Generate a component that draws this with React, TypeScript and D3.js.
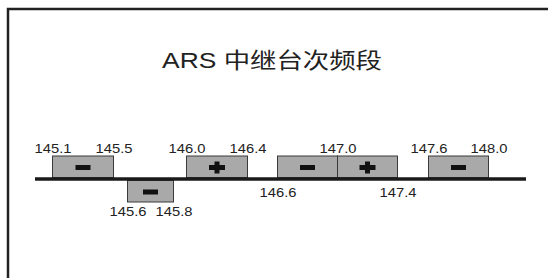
import React from 'react';
import * as d3 from 'd3';

// repeater sub-bands (MHz)
const bandStart = [145.1, 145.6, 146.0, 146.6, 147.0, 147.6];
const bandEnd = [145.5, 145.8, 146.4, 147.0, 147.4, 148.0];
const bandShift = ['-', '-', '+', '-', '+', '-'];
const bandSide = ['up', 'down', 'up', 'up', 'up', 'up'];

// edge labels: above the line, just under the line, or under the lower box
const edgeFreqs = [145.1, 145.5, 145.6, 145.8, 146.0, 146.4, 146.6, 147.0, 147.4, 147.6, 148.0];
const edgeLabelSide = ['up', 'up', 'low', 'low', 'up', 'up', 'down', 'up', 'down', 'up', 'up'];

// the drawing is schematic, not to scale: piecewise positions for each edge
const edgeX = [52, 113, 127, 173, 186, 247, 277, 337, 397, 428, 488];

const title = 'ARS 中继台次频段';

const width = 548;
const height = 278;
const axisY = 179;
const boxH = 22;
const labelY: Record<string, number> = { up: 152.5, down: 197, low: 215.5 };

const x = d3.scaleLinear().domain(edgeFreqs).range(edgeX);

function Sign({ cx, cy, kind }: { cx: number; cy: number; kind: string }) {
    if (kind === '+') {
        return (
            <g fill="#111">
                <rect x={cx - 8} y={cy - 2.5} width={16} height={5} />
                <rect x={cx - 2.5} y={cy - 6} width={5} height={12} />
            </g>
        );
    }
    return <rect x={cx - 7.5} y={cy - 2.5} width={15} height={5} fill="#111" />;
}

export default function App() {
    return (
        <div style={{ position: 'absolute', left: 0, top: 0 }}>
            <svg width={width} height={height} style={{ display: 'block' }}>
                <rect x={0} y={0} width={width} height={height} fill="#fff" />
                <rect x={8} y={9} width={600} height={400} fill="none" stroke="#222" strokeWidth={2.5} />

                <text
                    transform={`translate(272,67.5) scale(1.2,1)`}
                    textAnchor="middle"
                    fontFamily="Liberation Sans, Arial, 'Noto Sans CJK SC', sans-serif"
                    fontSize={22}
                    fill="#222"
                >
                    {title}
                </text>

                {bandStart.map((s, i) => {
                    const x0 = x(s);
                    const x1 = x(bandEnd[i]);
                    const up = bandSide[i] === 'up';
                    const y0 = up ? axisY - 1.5 - boxH + 0.5 : axisY + 1.5;
                    return (
                        <g key={i}>
                            <rect
                                x={x0 + 0.5}
                                y={y0}
                                width={x1 - x0}
                                height={boxH - 0.5}
                                fill="#a9a9a9"
                                stroke="#3a3a3a"
                                strokeWidth={1}
                            />
                            <Sign cx={(x0 + x1) / 2 + 0.5} cy={y0 + boxH / 2 + 0.5} kind={bandShift[i]} />
                        </g>
                    );
                })}

                <line x1={35} x2={526} y1={axisY} y2={axisY} stroke="#1a1a1a" strokeWidth={3.6} />

                {edgeFreqs.map((f, i) => (
                    <text
                        key={i}
                        transform={`translate(${x(f) + 1},${labelY[edgeLabelSide[i]]}) scale(1.18,1)`}
                        textAnchor="middle"
                        fontFamily="Liberation Sans, Arial, sans-serif"
                        fontSize={12.5}
                        fill="#222"
                    >
                        {f.toFixed(1)}
                    </text>
                ))}
            </svg>
        </div>
    );
}
